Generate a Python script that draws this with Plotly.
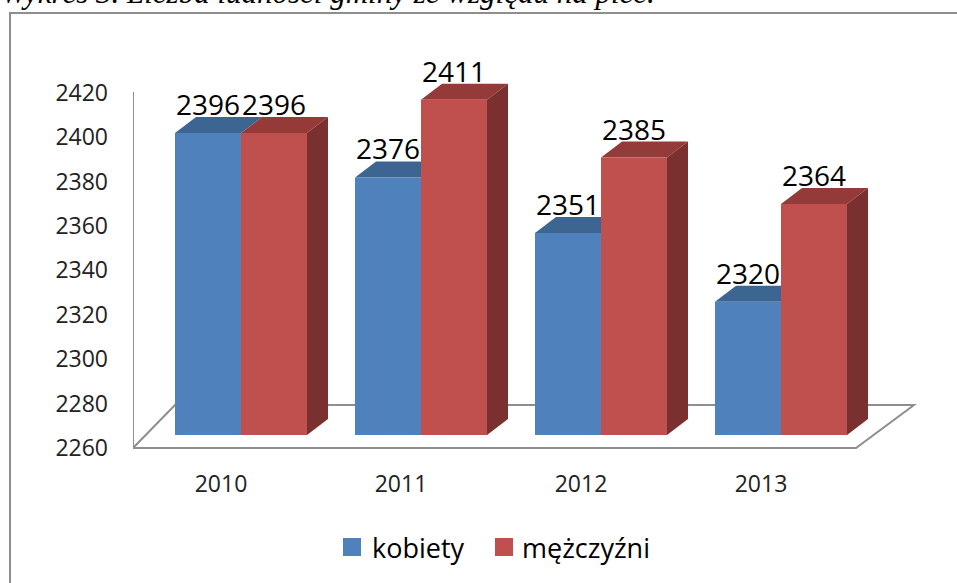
import plotly.graph_objects as go

# ---- data ----
YEARS = ["2010", "2011", "2012", "2013"]
KOBIETY = [2396, 2376, 2351, 2320]
MEZCZYZNI = [2396, 2411, 2385, 2364]
Y_TICKS = [2260, 2280, 2300, 2320, 2340, 2360, 2380, 2400, 2420]
SERIES_NAMES = ["kobiety", "mężczyźni"]
TITLE = "Wykres 3. Liczba ludności gminy ze względu na płeć."

# ---- styling / geometry ----
FIG_W, FIG_H = 957, 583
L, T, W, H = 133, 40, 800, 420
PX_PER_CAT = 180.0
PX_PER_VAL = 2.22
BASE = 2260
BASE_PX = 435
X0 = -0.6

BLUE, BLUE_TOP = "#4F81BD", "#3D6592"
RED, RED_TOP, RED_SIDE = "#C0504D", "#943B39", "#7A302E"
GRAY = "#8E8E8E"
FONT = "Open Sans"


def xu(px):
    return X0 + (px - L) / PX_PER_CAT


def yv(py):
    return BASE + (BASE_PX - py) / PX_PER_VAL


def px_paper(px):
    return (px - L) / W


def py_paper(py):
    return 1 - (py - T) / H


BAR_W = 66 / PX_PER_CAT
DX = 21 / PX_PER_CAT
DY = 16 / PX_PER_VAL

fig = go.Figure()

xs = list(range(len(YEARS)))
series = [(KOBIETY, BLUE, BLUE_TOP, -BAR_W), (MEZCZYZNI, RED, RED_TOP, 0.0)]

shapes = []
# floor
floor_pts = [(xu(133), yv(448)), (xu(175), yv(405)), (xu(914), yv(405)), (xu(856), yv(448))]
path = "M " + " L ".join(f"{x},{y}" for x, y in floor_pts) + " Z"
shapes.append(dict(type="path", path=path, xref="x", yref="y", line=dict(color=GRAY, width=2),
                   fillcolor="rgba(0,0,0,0)", layer="below"))
# vertical axis line
shapes.append(dict(type="line", xref="x", yref="y", x0=xu(133), x1=xu(133), y0=yv(448), y1=yv(92),
                   line=dict(color=GRAY, width=2), layer="below"))

for vals, col, topcol, off in series:
    fig.add_trace(go.Bar(x=xs, y=[v - BASE for v in vals], base=BASE, offset=off, width=BAR_W,
                         marker=dict(color=col, line=dict(width=0)), showlegend=False,
                         hoverinfo="skip"))
    for i, v in enumerate(vals):
        xa = i + off
        xb = xa + BAR_W
        top = f"M {xa},{v} L {xb},{v} L {xb+DX},{v+DY} L {xa+DX},{v+DY} Z"
        shapes.append(dict(type="path", path=top, xref="x", yref="y", fillcolor=topcol,
                           line=dict(width=0), layer="below"))
        if col == RED:
            side = f"M {xb},{BASE} L {xb},{v} L {xb+DX},{v+DY} L {xb+DX},{BASE+DY} Z"
            shapes.append(dict(type="path", path=side, xref="x", yref="y", fillcolor=RED_SIDE,
                               line=dict(width=0), layer="below"))

# data labels
annotations = []
for vals, col, topcol, off in series:
    for i, v in enumerate(vals):
        annotations.append(dict(x=i + off + BAR_W / 2, y=v, xref="x", yref="y", text=str(v),
                                showarrow=False, yanchor="middle", yshift=29,
                                font=dict(family=FONT, size=28, color="#000000")))

# title (partly cut off at top, as in the reference)
annotations.append(dict(x=px_paper(-1), y=py_paper(-7), xref="paper", yref="paper",
                        xanchor="left", yanchor="middle", showarrow=False,
                        text=f"<i>{TITLE}</i>",
                        font=dict(family="Liberation Serif", size=31, color="#000000")))

# outer frame
shapes.append(dict(type="rect", xref="paper", yref="paper", x0=px_paper(10), x1=px_paper(990),
                   y0=py_paper(640), y1=py_paper(13), line=dict(color=GRAY, width=2),
                   fillcolor="rgba(0,0,0,0)", layer="below"))

# legend (drawn as squares + labels)
LEG_SQ = [(343, 361), (495, 513)]
LEG_TX = [370, 520]
LEG_Y = 547
for name, col, (sx0, sx1), tx in zip(SERIES_NAMES, [BLUE, RED], LEG_SQ, LEG_TX):
    shapes.append(dict(type="rect", xref="paper", yref="paper", x0=px_paper(sx0), x1=px_paper(sx1),
                       y0=py_paper(LEG_Y + 9), y1=py_paper(LEG_Y - 9), fillcolor=col,
                       line=dict(width=0)))
    annotations.append(dict(x=px_paper(tx), y=py_paper(LEG_Y), xref="paper", yref="paper",
                            xanchor="left", yanchor="middle", showarrow=False, text=name,
                            font=dict(family=FONT, size=27, color="#000000")))

fig.update_layout(
    width=FIG_W, height=FIG_H, autosize=False,
    margin=dict(l=L, r=FIG_W - L - W, t=T, b=FIG_H - T - H),
    paper_bgcolor="white", plot_bgcolor="rgba(0,0,0,0)",
    barmode="overlay",
    shapes=shapes, annotations=annotations,
    xaxis=dict(range=[X0, X0 + W / PX_PER_CAT], tickvals=xs, ticktext=YEARS,
               showgrid=False, zeroline=False, showline=False, ticks="",
               ticklabelshift=-20, ticklabelstandoff=8,
               tickfont=dict(family=FONT, size=23, color="#222222")),
    yaxis=dict(range=[yv(T + H), yv(T)], tickvals=Y_TICKS, ticktext=[str(t) for t in Y_TICKS],
               showgrid=False, zeroline=False, showline=False, ticks="",
               ticklabelshift=13, ticklabelstandoff=24,
               tickfont=dict(family=FONT, size=23, color="#222222")),
    showlegend=False,
)

fig.write_html("out.html", config={"displayModeBar": False},
               post_script="document.body.style.margin='0px';document.body.style.overflow='hidden';")
